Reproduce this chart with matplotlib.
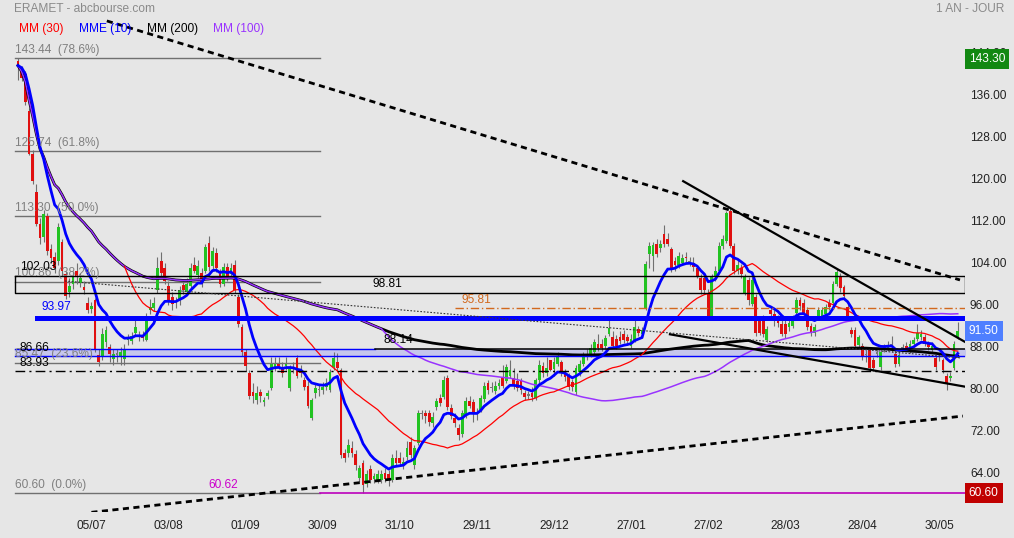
import matplotlib.pyplot as plt
import matplotlib.transforms as mtrans
import numpy as np
import pandas as pd

# daily candles, one year (index 0 = first session on the chart)
opens = [
    142.8, 141.3, 140.4, 133.4, 125.2, 117.9, 111.9, 109.3, 113.4, 107.0,
    105.5, 104.9, 108.4, 102.4, 99.0, 100.5, 103.0, 100.6, 99.8, 96.9,
    95.6, 97.3, 87.0, 86.8, 89.3, 88.5, 86.2, 87.0, 86.5, 86.2,
    89.7, 89.5, 91.2, 90.5, 90.8, 89.7, 95.4, 95.8, 99.2, 104.9,
    103.5, 100.1, 97.9, 97.0, 97.3, 100.2, 99.0, 100.1, 104.0, 102.2,
    102.6, 103.0, 108.3, 103.8, 106.4, 102.4, 100.5, 103.6, 102.4, 104.0,
    97.9, 92.2, 87.4, 83.4, 79.8, 78.3, 79.8, 77.9, 79.2, 80.6,
    84.4, 85.3, 84.6, 84.8, 80.6, 84.6, 86.3, 84.0, 82.1, 81.1,
    75.0, 79.6, 80.3, 80.3, 80.9, 80.2, 84.6, 85.5, 84.0, 68.2,
    68.2, 69.3, 68.0, 63.5, 66.3, 62.3, 65.2, 63.3, 63.1, 63.2,
    64.4, 64.2, 63.1, 67.4, 67.4, 65.9, 67.6, 70.3, 65.9, 70.1,
    75.7, 75.8, 75.8, 73.9, 77.0, 78.7, 78.9, 82.5, 76.8, 75.0,
    73.0, 71.8, 75.4, 78.1, 77.9, 75.6, 76.4, 78.5, 81.5, 80.8,
    80.0, 81.0, 82.5, 82.0, 83.0, 82.5, 81.9, 81.9, 79.6, 79.2,
    79.6, 78.8, 82.1, 84.9, 83.4, 85.9, 84.3, 85.3, 85.5, 83.6,
    83.0, 81.7, 79.8, 83.6, 85.3, 86.5, 87.2, 87.4, 89.1, 89.1,
    88.6, 91.0, 90.3, 90.0, 90.3, 91.0, 90.3, 88.7, 89.7, 91.9,
    91.0, 95.8, 106.2, 105.8, 108.1, 107.2, 110.0, 109.0, 107.0, 104.9,
    104.1, 104.5, 105.6, 104.5, 104.5, 103.4, 101.5, 101.5, 98.6, 94.4,
    101.7, 103.0, 107.7, 108.7, 114.4, 107.7, 103.0, 103.4, 98.8, 101.1,
    96.7, 97.9, 93.5, 93.5, 89.7, 95.4, 94.8, 93.9, 92.9, 92.9,
    92.2, 92.5, 95.0, 97.3, 96.9, 95.4, 92.5, 91.2, 94.4, 94.4,
    94.8, 96.9, 96.9, 100.5, 102.0, 99.8, 96.0, 91.6, 91.6, 88.9,
    88.7, 86.9, 87.8, 85.9, 87.2, 84.6, 88.3, 88.2, 88.7, 87.2,
    85.3, 88.3, 88.7, 87.8, 89.1, 90.0, 90.3, 90.3, 89.1, 87.8,
    86.3, 86.6, 85.9, 83.0, 82.5, 84.4, 90.4,
]
highs = [
    143.4, 142.0, 141.0, 134.0, 126.0, 119.5, 113.0, 114.5, 114.0, 108.0,
    106.5, 112.0, 109.0, 103.0, 101.5, 103.0, 104.5, 102.5, 101.0, 98.0,
    97.0, 97.8, 88.0, 92.0, 92.5, 89.0, 88.0, 88.0, 88.5, 89.0,
    91.0, 91.3, 93.5, 91.5, 91.5, 95.0, 97.5, 98.0, 105.5, 106.5,
    104.5, 101.0, 99.0, 98.0, 100.0, 101.0, 101.5, 104.5, 105.5, 105.0,
    103.5, 108.0, 109.5, 107.5, 107.2, 103.2, 104.5, 104.5, 104.5, 105.0,
    98.5, 92.8, 88.0, 84.0, 81.5, 81.0, 80.5, 79.0, 80.2, 86.5,
    86.5, 86.5, 85.5, 86.5, 85.0, 85.5, 87.0, 85.0, 82.8, 82.0,
    78.8, 81.5, 81.2, 81.8, 82.5, 84.3, 87.5, 87.3, 84.5, 69.0,
    71.0, 70.5, 68.8, 66.0, 67.0, 65.0, 66.0, 64.5, 65.0, 65.0,
    65.5, 65.0, 68.0, 68.8, 68.5, 67.5, 70.5, 71.3, 69.8, 76.5,
    76.5, 76.5, 76.5, 76.0, 78.8, 79.5, 83.0, 83.2, 77.5, 75.8,
    73.8, 76.5, 79.0, 79.2, 78.5, 76.8, 79.3, 81.8, 82.2, 81.8,
    82.0, 82.3, 85.0, 85.2, 86.0, 84.5, 83.5, 82.6, 80.2, 80.0,
    80.8, 82.6, 86.0, 85.5, 86.5, 86.0, 86.5, 87.5, 86.0, 84.2,
    83.5, 82.3, 85.0, 86.0, 87.5, 88.0, 89.0, 90.0, 91.0, 90.0,
    90.8, 94.3, 91.5, 90.8, 91.4, 91.6, 91.0, 91.0, 94.0, 92.5,
    92.3, 104.8, 108.5, 108.5, 109.0, 108.8, 111.6, 110.2, 107.5, 105.5,
    106.5, 106.2, 106.5, 105.5, 105.6, 104.0, 102.3, 102.0, 99.5, 102.3,
    103.8, 108.5, 109.8, 114.4, 114.8, 108.3, 105.0, 104.3, 102.3, 101.8,
    101.8, 98.5, 94.2, 94.5, 92.5, 96.3, 95.5, 94.6, 93.5, 93.6,
    94.0, 94.5, 98.0, 98.0, 97.5, 96.0, 93.0, 92.8, 96.0, 96.0,
    96.6, 97.5, 101.0, 103.3, 102.5, 100.3, 96.6, 92.2, 92.2, 90.8,
    89.2, 87.8, 88.4, 86.5, 88.0, 88.0, 89.0, 89.5, 90.5, 87.8,
    87.6, 89.0, 89.3, 89.7, 90.3, 92.8, 91.6, 90.9, 89.6, 89.3,
    86.9, 87.2, 86.4, 83.5, 83.6, 89.5, 93.2,
]
lows = [
    139.2, 139.0, 134.5, 125.0, 119.5, 111.5, 108.0, 108.5, 106.0, 104.5,
    102.5, 104.0, 102.0, 97.5, 98.0, 99.5, 100.5, 99.8, 98.5, 95.0,
    95.0, 87.5, 84.8, 86.0, 88.5, 85.5, 85.0, 85.5, 85.0, 85.0,
    88.8, 89.0, 90.5, 89.5, 89.5, 89.5, 94.8, 95.3, 98.8, 102.0,
    100.5, 96.5, 95.5, 95.8, 96.5, 98.5, 98.5, 99.5, 102.5, 101.5,
    99.8, 102.5, 103.0, 103.0, 102.8, 99.8, 100.0, 101.0, 101.8, 98.8,
    92.3, 86.8, 83.8, 78.5, 77.8, 77.5, 78.0, 77.2, 78.5, 80.2,
    83.8, 84.2, 82.8, 84.0, 80.0, 83.5, 82.5, 82.8, 80.2, 76.8,
    74.5, 78.8, 79.2, 79.5, 80.2, 79.8, 84.0, 83.8, 67.3, 66.5,
    67.5, 67.5, 65.0, 62.8, 60.6, 61.8, 62.5, 62.5, 62.6, 62.5,
    62.8, 61.9, 62.8, 65.8, 65.8, 65.2, 67.0, 67.3, 65.3, 69.8,
    74.8, 74.0, 73.5, 73.2, 76.5, 77.2, 78.5, 76.5, 74.8, 73.3,
    70.8, 71.3, 75.0, 76.8, 74.2, 74.5, 76.0, 78.0, 79.5, 79.8,
    79.5, 80.4, 80.6, 81.5, 82.5, 80.5, 80.0, 79.5, 78.3, 78.5,
    78.2, 78.3, 81.6, 82.8, 82.9, 83.8, 83.0, 84.8, 83.0, 82.0,
    80.2, 80.0, 79.3, 83.0, 84.8, 86.0, 86.6, 87.0, 87.7, 87.6,
    88.0, 90.5, 88.2, 88.0, 89.0, 89.2, 88.8, 88.2, 89.3, 90.5,
    90.2, 95.5, 103.5, 103.0, 105.5, 106.5, 107.5, 107.6, 102.8, 103.0,
    103.5, 104.0, 104.6, 103.8, 103.0, 101.5, 98.6, 98.5, 94.0, 94.0,
    101.0, 102.5, 107.0, 108.2, 107.2, 102.4, 102.3, 101.5, 98.3, 96.5,
    96.2, 90.6, 90.8, 90.3, 89.3, 93.5, 92.5, 92.3, 90.5, 90.2,
    91.5, 92.0, 94.5, 95.5, 94.5, 91.6, 90.6, 90.6, 93.8, 93.8,
    94.2, 95.5, 96.3, 100.0, 99.0, 97.6, 93.8, 90.4, 88.2, 88.4,
    86.0, 85.5, 84.0, 83.9, 86.5, 84.0, 87.5, 87.6, 87.5, 84.6,
    84.8, 87.6, 87.6, 87.3, 88.6, 89.5, 89.8, 88.6, 87.8, 87.3,
    84.0, 85.8, 83.5, 80.3, 82.0, 84.0, 90.0,
]
closes = [
    142.0, 139.7, 135.0, 125.2, 120.1, 111.9, 109.1, 113.8, 106.8, 105.3,
    103.5, 111.2, 103.0, 98.2, 100.0, 101.7, 101.7, 101.5, 99.2, 95.4,
    96.3, 88.0, 85.5, 91.0, 91.6, 87.2, 87.2, 87.1, 87.4, 87.8,
    90.3, 90.5, 92.2, 90.6, 90.2, 94.4, 96.0, 96.8, 103.4, 102.6,
    101.0, 97.3, 96.7, 97.2, 99.2, 99.3, 100.5, 103.4, 103.0, 103.8,
    100.5, 107.4, 103.6, 106.8, 103.4, 100.5, 103.6, 101.7, 103.4, 99.2,
    92.9, 87.4, 84.9, 79.2, 79.2, 79.6, 79.2, 78.3, 79.6, 85.3,
    85.3, 84.8, 83.4, 85.3, 84.6, 84.2, 83.0, 83.4, 80.8, 77.3,
    78.3, 80.6, 80.4, 80.9, 81.5, 83.6, 86.3, 84.4, 67.8, 67.3,
    69.8, 68.2, 65.9, 65.4, 62.1, 64.2, 63.1, 63.8, 64.2, 64.2,
    63.4, 63.1, 67.4, 66.3, 66.3, 66.5, 69.2, 67.8, 69.2, 75.8,
    75.8, 75.4, 74.1, 75.2, 78.1, 77.7, 82.1, 77.1, 75.4, 73.9,
    71.6, 75.8, 78.1, 77.3, 75.8, 75.7, 78.7, 81.0, 80.2, 80.7,
    81.1, 81.5, 81.1, 84.6, 84.0, 81.1, 80.7, 80.2, 78.9, 79.3,
    78.9, 82.1, 85.0, 83.4, 84.4, 84.0, 85.6, 86.5, 83.4, 82.7,
    80.8, 80.8, 84.4, 85.3, 86.8, 87.2, 88.3, 89.3, 88.2, 88.2,
    90.2, 92.0, 88.7, 88.7, 89.5, 89.7, 89.5, 90.0, 92.2, 91.2,
    91.6, 104.3, 107.6, 107.9, 106.2, 108.1, 108.1, 108.1, 103.4, 104.1,
    105.7, 105.3, 105.3, 104.6, 103.6, 102.0, 99.2, 99.2, 94.4, 101.7,
    103.0, 107.7, 109.0, 114.0, 107.7, 103.0, 104.0, 102.4, 101.7, 97.3,
    101.1, 91.2, 91.2, 91.0, 91.9, 94.8, 93.9, 93.1, 91.0, 91.0,
    93.1, 93.9, 97.4, 96.3, 95.0, 92.2, 91.2, 92.2, 95.4, 95.4,
    96.0, 96.0, 100.5, 102.8, 99.6, 98.2, 94.4, 91.0, 88.7, 90.3,
    86.5, 87.0, 84.4, 84.4, 87.3, 87.4, 88.4, 88.9, 88.8, 85.3,
    87.0, 88.4, 88.2, 89.1, 89.7, 91.2, 91.0, 89.1, 88.4, 88.7,
    84.6, 86.7, 84.0, 81.5, 83.0, 89.1, 91.5,
]

date_index = [20, 41, 62, 83, 104, 125, 146, 167, 188, 209, 230, 251]
date_labels = ['05/07', '03/08', '01/09', '30/09', '31/10', '29/11',
               '29/12', '27/01', '27/02', '28/03', '28/04', '30/05']
price_ticks = [64, 72, 80, 88, 96, 104, 112, 120, 128, 136, 144]

fib_levels = [143.44, 125.74, 113.30, 100.86, 85.47, 60.60]
fib_pcts = ['78.6%', '61.8%', '50.0%', '38.2%', '23.6%', '0.0%']

box_top, box_bottom = 102.03, 98.81
blue_level = 93.97
orange_level = 95.81
zone_low, zone_high = 86.66, 88.14
dashdot_level = 83.93
magenta_level = 60.62
last_high, last_close, year_low = 143.30, 91.50, 60.60

# trend lines drawn on the chart: (start index, end index), (start price, end price)
resist_dashed = ([24.2, 256.6], [150.5, 101.2])
support_dashed = ([20.0, 257.4], [56.98, 75.3])
thin_dotted = ([12.8, 257.0], [101.0, 86.35])
upper_solid = ([181.2, 258.0], [120.0, 89.4])
lower_solid = ([177.6, 258.0], [90.86, 80.89])

plt.rcParams['font.family'] = ['Liberation Sans', 'DejaVu Sans']
BG = '#e6e6e6'
FS = 8.6

fig = plt.figure(figsize=(10.14, 5.38), dpi=100, facecolor=BG)
ax = fig.add_axes([0, 26 / 538, 965 / 1014, 512 / 538])
ax.set_facecolor(BG)
ax.set_xlim(-4.9, 257.97)
ax.set_ylim(57.04, 154.48)
for s in ax.spines.values():
    s.set_visible(False)

ax.yaxis.tick_right()
ax.set_yticks(price_ticks, [f'{v:.2f}' for v in price_ticks])
ax.set_xticks(date_index, date_labels)
ax.tick_params(axis='y', length=0, pad=3.6, labelsize=FS, labelcolor='#222')
ax.tick_params(axis='x', length=0, pad=5.5, labelsize=FS, labelcolor='#222')
# right-hand labels sit a little above their level
lift = mtrans.ScaledTranslation(0, 3 / 100, fig.dpi_scale_trans)
for lab in ax.get_yticklabels():
    lab.set_transform(lab.get_transform() + lift)

df = pd.DataFrame({'open': opens, 'high': highs, 'low': lows, 'close': closes})
idx = np.arange(len(df))

# fibonacci retracements
for lev, pct in zip(fib_levels, fib_pcts):
    ax.plot([-0.8, 82.3], [lev, lev], color='#707070', lw=1, zorder=1)
    ax.text(-0.8, lev + 0.45, f'{lev:.2f}  ({pct})', color='#808080',
            fontsize=FS, va='bottom', ha='left', zorder=6)

# zones and horizontal levels
ax.fill_between([-0.8, 258], zone_low, zone_high, color='#c6c6ec', zorder=1)
ax.plot([-0.8, 258], [zone_low, zone_low], color='#0000ff', lw=1, zorder=5)
ax.plot([-0.8, 97.2], [zone_high, zone_high], color='#0000ff', lw=1, zorder=5)
ax.plot([97.2, 258], [zone_high, zone_high], color='black', lw=1.1, zorder=5)
ax.plot([-0.8, 258, 258, -0.8, -0.8], [box_top, box_top, box_bottom, box_bottom, box_top],
        color='black', lw=1, zorder=5)
ax.plot([5.2, 258], [blue_level, blue_level], color='#0000ff', lw=3.6, zorder=5)
ax.plot([119.0, 258], [orange_level, orange_level], color='#d2691e', lw=1,
        ls=(0, (6, 2, 1, 2)), zorder=5)
ax.plot([-0.8, 258], [dashdot_level, dashdot_level], color='black', lw=1,
        ls=(0, (7, 3, 1.5, 3)), zorder=5)
ax.plot([82.3, 258], [magenta_level, magenta_level], color='#bb00bb', lw=1.2, zorder=5)

ax.text(0.5, box_top + 0.4, '102.03', fontsize=FS, va='bottom', zorder=6)
ax.text(96.7, box_bottom + 0.4, '98.81', fontsize=FS, va='bottom', zorder=6)
ax.text(6.5, blue_level + 0.9, '93.97', fontsize=FS, va='bottom', color='#0000ff', zorder=6)
ax.text(0.5, zone_low + 0.4, '86.66', fontsize=FS, va='bottom', zorder=6)
ax.text(0.5, dashdot_level + 0.4, '83.93', fontsize=FS, va='bottom', zorder=6)
ax.text(99.7, zone_high + 0.4, '88.14', fontsize=FS, va='bottom', zorder=6)
ax.text(120.9, orange_level + 0.4, '95.81', fontsize=FS, va='bottom', color='#d2691e', zorder=6)
ax.text(51.8, magenta_level + 0.4, '60.62', fontsize=FS, va='bottom', color='#cc00cc', zorder=6)

# candles
diff = df['close'] - df['open']
colors = np.where(diff > 0.15, '#22c322', np.where(diff < -0.15, '#e01010', '#777777'))
ax.vlines(idx, df['low'], df['high'], color='#707070', lw=0.8, zorder=2)
bottoms = np.minimum(df['open'], df['close'])
heights = np.maximum(diff.abs(), 0.22)
ax.bar(idx, heights, bottom=bottoms, width=0.75, color=colors, zorder=3, linewidth=0)

# indicators
c = df['close']
mm30 = c.rolling(30).mean()
mme10 = c.ewm(span=10, adjust=False).mean()
mm100 = c.rolling(100, min_periods=1).mean()
mm200 = c.rolling(200, min_periods=1).mean()
ax.plot(idx, mm200, color='black', lw=2.0, zorder=4)
ax.plot(idx, mm100, color='#9933ff', lw=1.1, zorder=4)
ax.plot(idx, mm30, color='#ff0000', lw=0.9, zorder=4)
ax.plot(idx, mme10, color='#0000ff', lw=2.0, zorder=4)

# trend lines
ax.plot(*resist_dashed, color='black', lw=2, ls=(0, (2.2, 1.6)), zorder=5)
ax.plot(*support_dashed, color='black', lw=2, ls=(0, (2.2, 1.6)), zorder=5)
ax.plot(*thin_dotted, color='#333333', lw=0.8, ls=(0, (1.5, 1.5)), zorder=5)
ax.plot(*upper_solid, color='black', lw=1.6, zorder=5)
ax.plot(*lower_solid, color='black', lw=1.6, zorder=5)

# price flags on the right axis
yt = ax.get_yaxis_transform()
for val, col in [(last_high, '#128812'), (last_close, '#4f7fff'), (year_low, '#c00000')]:
    ax.text(1.004, val, f'{val:.2f}', transform=yt, color='white', fontsize=FS,
            ha='left', va='center', clip_on=False, zorder=10,
            bbox=dict(boxstyle='square,pad=0.35', fc=col, ec='none'))

# header texts
fig.text(14 / 1014, 1 - 9 / 538, 'ERAMET - abcbourse.com', color='#8a8a8a',
         fontsize=FS, va='center', ha='left')
fig.text(1004 / 1014, 1 - 9 / 538, '1 AN - JOUR', color='#8a8a8a',
         fontsize=FS, va='center', ha='right')
for x, s, col in [(19, 'MM (30)', '#ff0000'), (79, 'MME (10)', '#0000ff'),
                  (147, 'MM (200)', '#000000'), (213, 'MM (100)', '#9933ff')]:
    fig.text(x / 1014, 1 - 29 / 538, s, color=col, fontsize=FS, va='center', ha='left')

fig.savefig('out.png', dpi=100, facecolor=BG)
